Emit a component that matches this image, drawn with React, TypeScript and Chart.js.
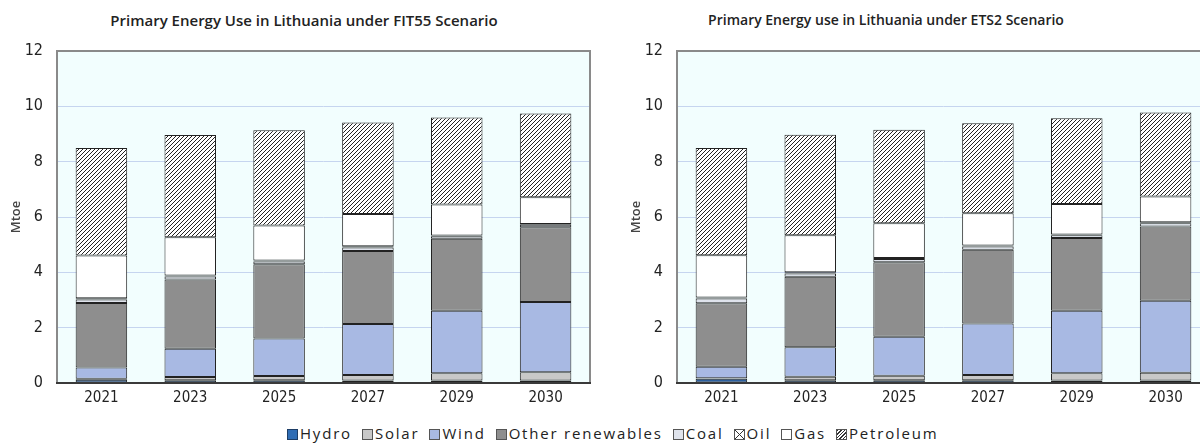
import React, { useEffect, useRef } from "react";
import { Chart, registerables } from "chart.js";

Chart.register(...registerables);

const categories = ["2021", "2023", "2025", "2027", "2029", "2030"];
const seriesNames = ["Hydro", "Solar", "Wind", "Other renewables", "Coal", "Oil", "Gas", "Petroleum"];

// FIT55 scenario (Mtoe)
const hydroFit = [0.12, 0.1, 0.1, 0.09, 0.09, 0.09];
const solarFit = [0.03, 0.12, 0.15, 0.2, 0.26, 0.3];
const windFit = [0.41, 1.02, 1.36, 1.84, 2.26, 2.54];
const otherFit = [2.33, 2.5, 2.68, 2.64, 2.6, 2.7];
const coalFit = [0.13, 0.11, 0.1, 0.13, 0.09, 0.09];
const oilFit = [0.04, 0.04, 0.04, 0.04, 0.03, 0.03];
const gasFit = [1.55, 1.38, 1.26, 1.17, 1.12, 0.96];
const petFit = [3.88, 3.69, 3.45, 3.31, 3.15, 3.03];

// ETS2 scenario (Mtoe)
const hydroEts = [0.15, 0.1, 0.1, 0.1, 0.09, 0.09];
const solarEts = [0.02, 0.13, 0.16, 0.19, 0.26, 0.28];
const windEts = [0.42, 1.06, 1.41, 1.86, 2.26, 2.6];
const otherEts = [2.29, 2.55, 2.69, 2.67, 2.63, 2.69];
const coalEts = [0.17, 0.12, 0.12, 0.11, 0.1, 0.11];
const oilEts = [0.04, 0.04, 0.04, 0.04, 0.03, 0.04];
const gasEts = [1.53, 1.34, 1.25, 1.17, 1.1, 0.93];
const petEts = [3.87, 3.63, 3.38, 3.25, 3.1, 3.04];

const yTicks = [0, 2, 4, 6, 8, 10, 12];

const titleFit = "Primary Energy Use in Lithuania under FIT55 Scenario";
const titleEts = "Primary Energy use in Lithuania under ETS2 Scenario";
const yTitle = "Mtoe";

const solidColors: Record<string, string> = {
  Hydro: "#2c5f9e",
  Solar: "#c8c8c8",
  Wind: "#a8b9e3",
  "Other renewables": "#8e8e8e",
  Coal: "#dfe3ec",
  Gas: "#ffffff",
};

const TICK_FONT = "'Liberation Sans Narrow', 'Arial Narrow', 'DejaVu Sans Condensed', 'Roboto', sans-serif";

function makePattern(kind: "diag" | "cross"): CanvasPattern | string {
  const c = document.createElement("canvas");
  c.width = 4;
  c.height = 4;
  const g = c.getContext("2d");
  if (!g) return "#999";
  g.fillStyle = "#ffffff";
  g.fillRect(0, 0, 4, 4);
  g.strokeStyle = "#222222";
  g.lineWidth = 1;
  g.beginPath();
  g.moveTo(-1, 5);
  g.lineTo(5, -1);
  g.moveTo(-1, 1);
  g.lineTo(1, -1);
  g.moveTo(3, 5);
  g.lineTo(5, 3);
  if (kind === "cross") {
    g.moveTo(-1, -1);
    g.lineTo(5, 5);
    g.moveTo(3, -1);
    g.lineTo(5, 1);
    g.moveTo(-1, 3);
    g.lineTo(1, 5);
  }
  g.stroke();
  const p = g.createPattern(c, "repeat");
  return p || "#999";
}

const plotFrame = {
  id: "plotFrame",
  beforeDraw(chart: any) {
    const { ctx, chartArea } = chart;
    ctx.save();
    ctx.fillStyle = "#f2fefe";
    ctx.fillRect(chartArea.left, chartArea.top, chartArea.right - chartArea.left, chartArea.bottom - chartArea.top);
    ctx.restore();
  },
  afterDraw(chart: any) {
    const { ctx, chartArea } = chart;
    ctx.save();
    ctx.strokeStyle = "#8a8a8a";
    ctx.lineWidth = 2;
    ctx.beginPath();
    ctx.moveTo(chartArea.left, chartArea.bottom);
    ctx.lineTo(chartArea.left, chartArea.top);
    ctx.lineTo(chartArea.right, chartArea.top);
    ctx.lineTo(chartArea.right, chartArea.bottom);
    ctx.stroke();
    ctx.strokeStyle = "#3a3a3a";
    ctx.beginPath();
    ctx.moveTo(chartArea.left - 1, chartArea.bottom);
    ctx.lineTo(chartArea.right + 1, chartArea.bottom);
    ctx.stroke();
    ctx.restore();
  },
};

function StackChart({ series }: { series: number[][] }) {
  const ref = useRef<HTMLCanvasElement | null>(null);
  useEffect(() => {
    if (!ref.current) return;
    const diag = makePattern("diag");
    const cross = makePattern("cross");
    const datasets = seriesNames.map((name, i) => ({
      label: name,
      data: series[i],
      backgroundColor: name === "Petroleum" ? diag : name === "Oil" ? cross : solidColors[name],
      borderColor: "#222222",
      borderWidth: 1,
      borderSkipped: false,
      categoryPercentage: 1,
      barPercentage: 0.58,
    }));
    const chart = new Chart(ref.current, {
      type: "bar",
      data: { labels: categories, datasets: datasets as any },
      plugins: [plotFrame],
      options: {
        responsive: false,
        animation: false,
        layout: { padding: { top: 51, left: 0, right: 16, bottom: 0 } },
        plugins: { legend: { display: false }, tooltip: { enabled: false }, title: { display: false } },
        scales: {
          x: {
            stacked: true,
            grid: { display: false, drawTicks: false },
            border: { display: false },
            ticks: { color: "#222", font: { family: TICK_FONT, size: 15 }, padding: 6 },
            afterFit: (s: any) => {
              s.height = 32;
            },
          },
          y: {
            stacked: true,
            min: 0,
            max: 12,
            afterBuildTicks: (s: any) => {
              s.ticks = yTicks.map((v) => ({ value: v }));
            },
            grid: { color: "#c6d5ef", lineWidth: 1, drawTicks: false },
            border: { display: false },
            ticks: { color: "#222", font: { family: TICK_FONT, size: 16 }, padding: 14 },
            title: {
              display: true,
              text: yTitle,
              color: "#444",
              font: { family: "'Open Sans', sans-serif", size: 13, weight: "600" },
              padding: { top: 8, bottom: 0 },
            },
            afterFit: (s: any) => {
              s.width = 57;
            },
          },
        },
      } as any,
    });
    return () => chart.destroy();
  }, [series]);
  return <canvas ref={ref} width={606} height={415} style={{ display: "block" }} />;
}

const legendBox = (name: string): React.CSSProperties => {
  const base: React.CSSProperties = {
    display: "inline-block",
    width: 11,
    height: 11,
    border: "1px solid #555",
    marginRight: 2,
    verticalAlign: "-1px",
    boxSizing: "border-box",
  };
  if (name === "Petroleum") {
    return {
      ...base,
      background: "repeating-linear-gradient(-45deg, #fff 0px, #fff 1.5px, #333 1.5px, #333 2.5px)",
    };
  }
  if (name === "Oil") {
    return {
      ...base,
      background:
        "linear-gradient(45deg, transparent 45%, #333 45%, #333 55%, transparent 55%), linear-gradient(-45deg, #fff 45%, #333 45%, #333 55%, #fff 55%)",
    };
  }
  if (name === "Hydro") return { ...base, background: "#2f6db5", borderColor: "#1d3d66" };
  return { ...base, background: solidColors[name] };
};

export default function App() {
  const fit = [hydroFit, solarFit, windFit, otherFit, coalFit, oilFit, gasFit, petFit];
  const ets = [hydroEts, solarEts, windEts, otherEts, coalEts, oilEts, gasEts, petEts];
  const titleStyle: React.CSSProperties = {
    position: "absolute",
    top: 10,
    width: 500,
    textAlign: "center",
    fontFamily: "'Open Sans', sans-serif",
    fontWeight: 600,
    color: "#222",
    whiteSpace: "nowrap",
    lineHeight: "20px",
  };
  return (
    <div
      style={{
        position: "absolute",
        left: 0,
        top: 0,
        width: 1200,
        height: 443,
        overflow: "hidden",
        background: "#fff",
      }}
    >
      <div style={{ ...titleStyle, left: 304 - 250, fontSize: 15 }}>{titleFit}</div>
      <div style={{ ...titleStyle, left: 886 - 250, fontSize: 14 }}>{titleEts}</div>
      <div style={{ position: "absolute", left: 0, top: 0 }}>
        <StackChart series={fit} />
      </div>
      <div style={{ position: "absolute", left: 620, top: 0 }}>
        <StackChart series={ets} />
      </div>
      <div
        style={{
          position: "absolute",
          left: 287,
          top: 423,
          fontFamily: "'Open Sans', sans-serif",
          fontSize: 15,
          letterSpacing: 1.8,
          color: "#222",
          whiteSpace: "nowrap",
          lineHeight: "20px",
        }}
      >
        {seriesNames.map((n) => (
          <span key={n} style={{ marginRight: 10 }}>
            <span style={legendBox(n)} />
            {n}
          </span>
        ))}
      </div>
    </div>
  );
}
